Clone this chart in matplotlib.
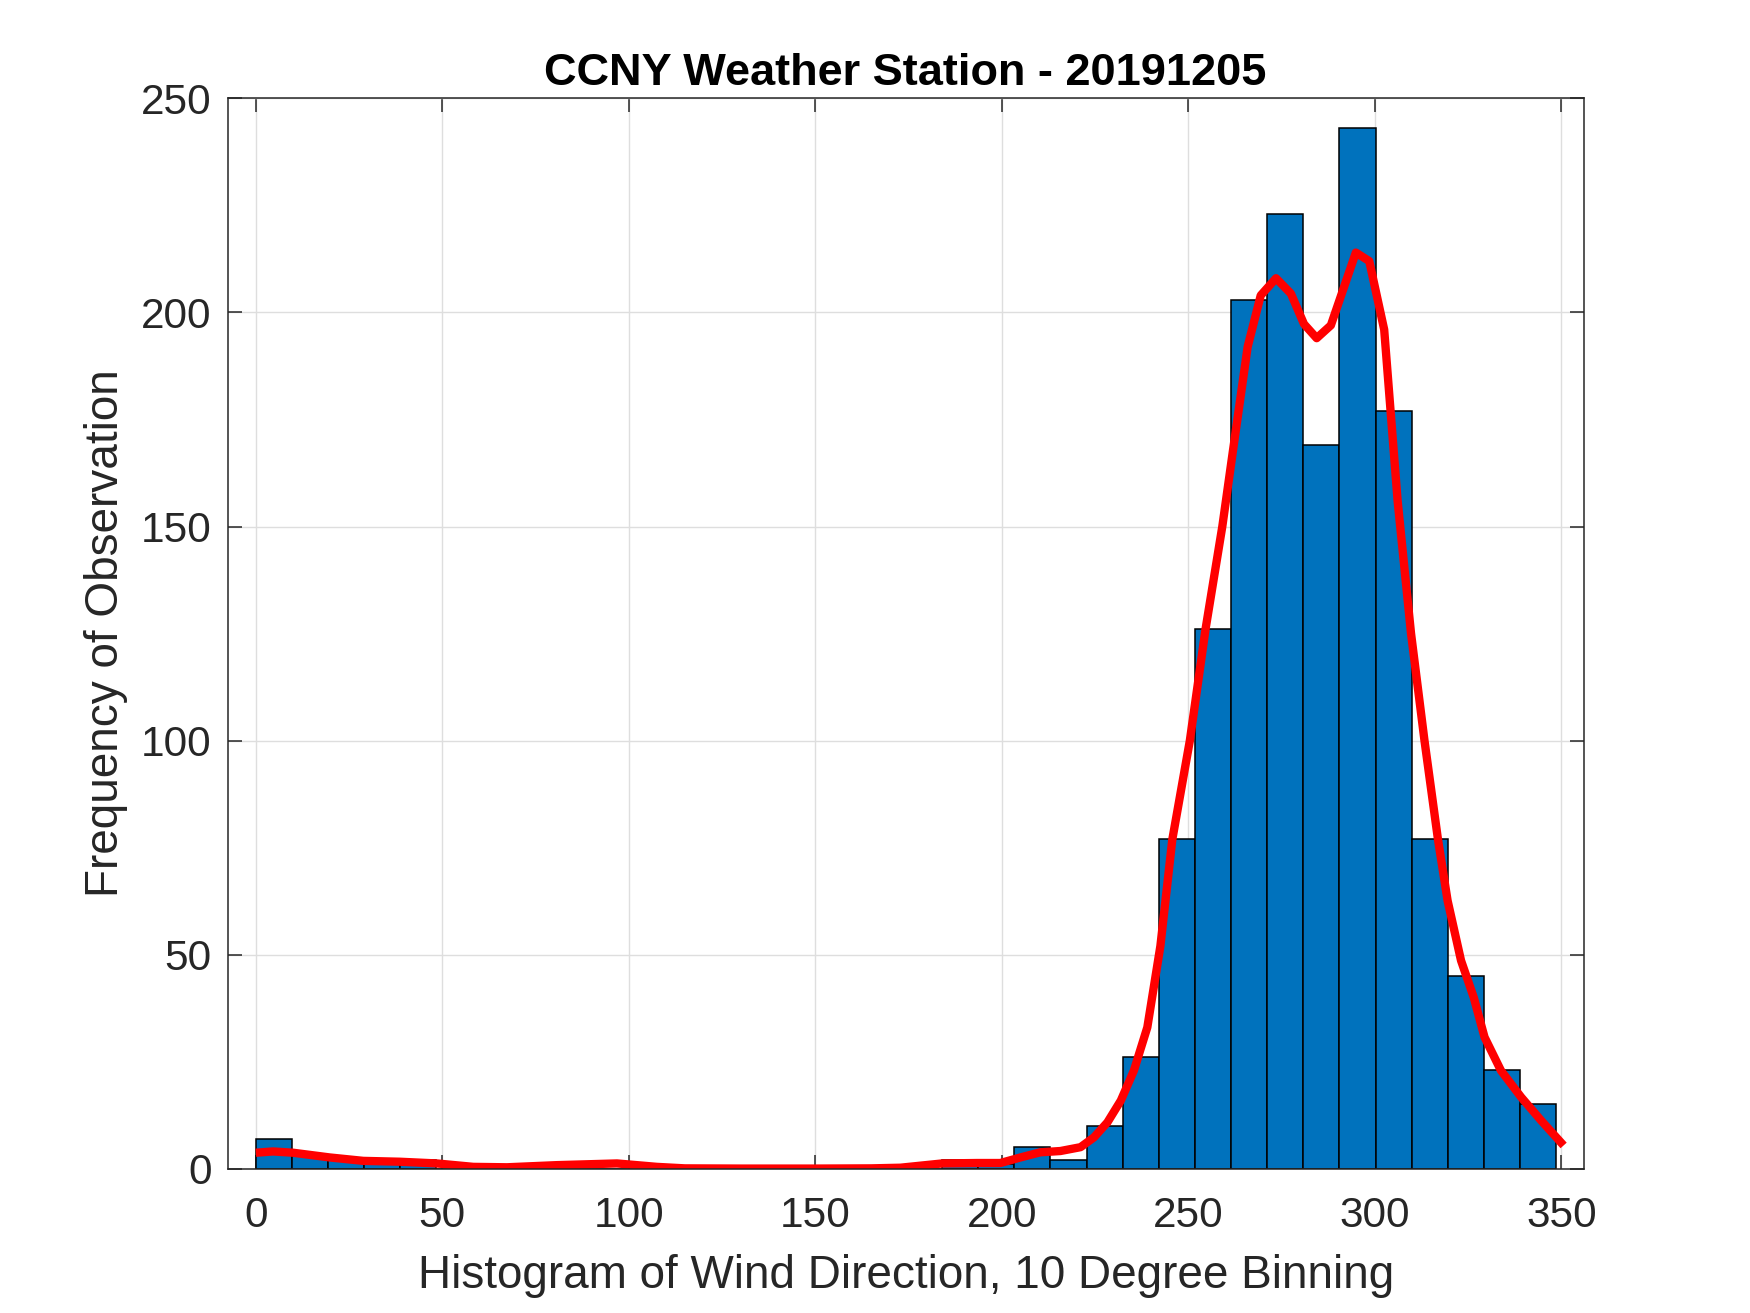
import numpy as np
import matplotlib
matplotlib.use("Agg")
import matplotlib.pyplot as plt

# Histogram data: 36 bins spanning 0 .. 348.6 degrees
bin_lo = 0.0
bin_hi = 348.6
counts = [7, 3, 2, 2, 2, 0, 0, 0, 0, 0,
          0, 0, 0, 0, 0, 0, 0, 0, 0, 2,
          1, 5, 2, 10, 26, 77, 126, 203, 223, 169,
          243, 177, 77, 45, 23, 15]

# Smoothed density curve (scaled to counts)
kde_x = [0.0, 4.6, 10.0, 19.8, 28.8, 38.6, 48.5, 58.3, 67.3, 80.7,
         96.8, 107.5, 115.0, 130.0, 150.0, 165.0, 172.8, 184.0, 193.4, 199.6,
         205.0, 210.3, 215.7, 221.1, 224.7, 228.3, 231.9, 235.4, 239.0, 242.5,
         245.7, 250.4, 254.6, 259.1, 262.0, 265.9, 269.4, 273.5, 277.5, 281.0,
         284.4, 288.2, 294.9, 298.5, 302.5, 306.1, 309.7, 313.3, 316.9, 319.5,
         323.1, 326.5, 329.4, 333.8, 339.2, 344.6, 350.6]
kde_y = [3.7, 4.0, 3.7, 2.6, 1.8, 1.6, 1.2, 0.4, 0.3, 0.8,
         1.2, 0.4, 0.05, 0.0, 0.0, 0.05, 0.2, 1.2, 1.3, 1.3,
         2.6, 3.8, 4.1, 5.0, 7.3, 10.8, 15.9, 22.9, 33.0, 52.0,
         76.9, 100.0, 126.0, 150.0, 168.0, 192.0, 204.0, 208.0, 204.4, 197.3,
         194.0, 197.0, 214.0, 212.0, 196.0, 156.0, 125.0, 100.0, 77.0, 62.6,
         48.6, 40.0, 30.7, 22.9, 16.7, 11.2, 5.4]

xticks = [0, 50, 100, 150, 200, 250, 300, 350]
yticks = [0, 50, 100, 150, 200, 250]

title = "CCNY Weather Station - 20191205"
xlabel = "Histogram of Wind Direction, 10 Degree Binning"
ylabel = "Frequency of Observation"

plt.rcParams['font.family'] = ['Liberation Sans', 'DejaVu Sans']

fig = plt.figure(figsize=(17.5, 13.13), dpi=100)
ax = fig.add_axes([0.13, 0.11, 0.775, 0.815])

edges = np.linspace(bin_lo, bin_hi, len(counts) + 1)
ax.bar(edges[:-1], counts, width=np.diff(edges), align='edge',
       color='#0072BD', edgecolor='black', linewidth=1.1, zorder=2)
ax.plot(kde_x, kde_y, color='#FF0000', linewidth=6.0, zorder=3,
        solid_joinstyle='round', solid_capstyle='butt')

ax.set_xlim(-7.6, 356)
ax.set_ylim(0, 250)
ax.set_xticks(xticks)
ax.set_yticks(yticks)

dark = '#262626'
for s in ax.spines.values():
    s.set_color(dark)
    s.set_linewidth(1.1)
    s.set_zorder(4)
ax.tick_params(direction='in', length=10, width=1.1, color=dark,
               labelcolor=dark, labelsize=30.5, top=True, right=True)
ax.tick_params(axis='x', pad=20)
ax.tick_params(axis='y', pad=11.5)
ax.grid(True, color='#dedede', linewidth=1.0, zorder=0)
ax.set_axisbelow(True)

ax.set_title(title, fontsize=32.5, fontweight='bold', color='black', pad=9.5)
ax.set_xlabel(xlabel, fontsize=33, color=dark, labelpad=13)
ax.set_ylabel(ylabel, fontsize=33, color=dark, labelpad=9)

fig.savefig("out.png", dpi=100, facecolor='white')
